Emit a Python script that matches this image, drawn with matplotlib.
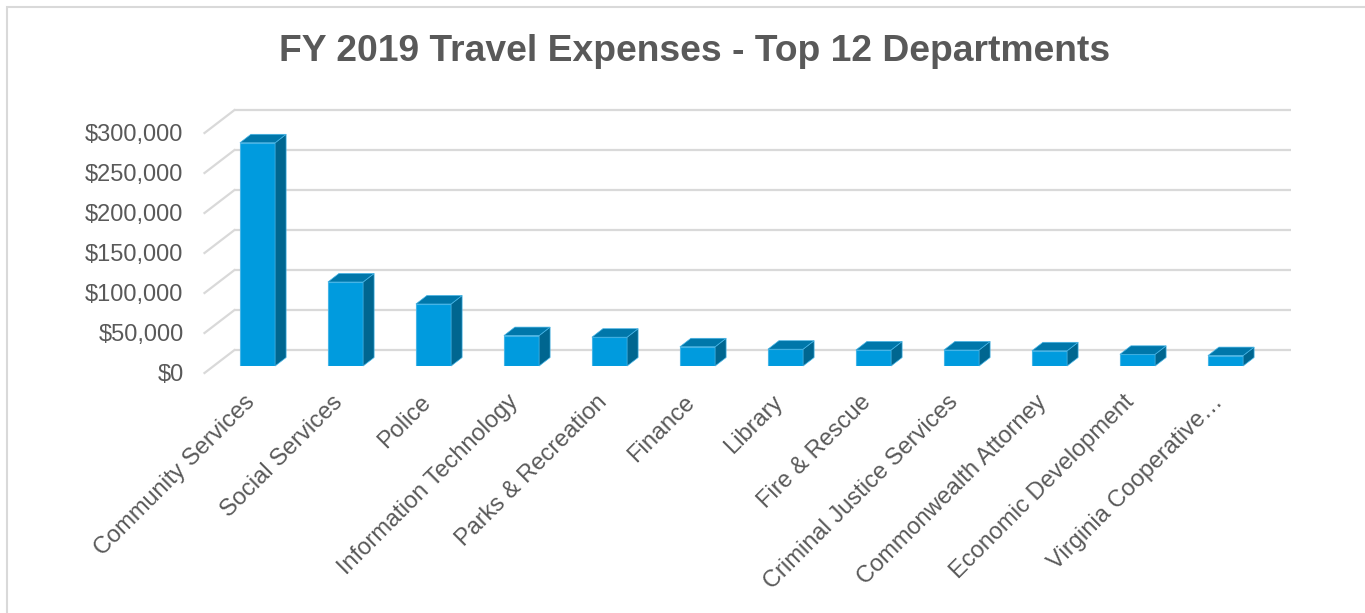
import matplotlib
matplotlib.use("Agg")
import matplotlib.pyplot as plt
from matplotlib.patches import Polygon, Rectangle
import matplotlib.transforms as mtransforms

# ---- data ----
departments = [
    "Community Services", "Social Services", "Police", "Information Technology",
    "Parks & Recreation", "Finance", "Library", "Fire & Rescue",
    "Criminal Justice Services", "Commonwealth Attorney", "Economic Development",
    "Virginia Cooperative\u2026",
]
expenses = [279000, 105000, 77500, 38000, 36000, 24000, 21000, 20000, 20000, 19000, 14600, 13000]
y_ticks = [0, 50000, 100000, 150000, 200000, 250000, 300000]
y_tick_labels = ["$0", "$50,000", "$100,000", "$150,000", "$200,000", "$250,000", "$300,000"]
title = "FY 2019 Travel Expenses - Top 12 Departments"

# ---- style ----
plt.rcParams["font.family"] = ["Liberation Sans", "DejaVu Sans"]
TEXT = "#595959"
GRID = "#D9D9D9"
FRONT = "#009BDE"
SIDE = "#006690"
TOP = "#0077AA"
EDGE = "#45B4E6"

W, H = 1365, 613
fig = plt.figure(figsize=(W / 100, H / 100), dpi=100)
fig.patch.set_facecolor("white")

# axes = plane of the bars' front faces
ax_l, ax_r, ax_zero, ax_top = 213.5, 1269.5, 366, 126
ax = fig.add_axes([ax_l / W, (H - ax_zero) / H, (ax_r - ax_l) / W, (ax_zero - ax_top) / H])
n = len(departments)
ax.set_xlim(-0.5, n - 0.5)
ax.set_ylim(0, 300000)
ax.axis("off")

PX_X = n / (ax_r - ax_l)          # category units per pixel
PX_Y = 300000 / (ax_zero - ax_top)  # dollars per pixel

# depth offsets in pixels (x right, y up) relative to bar front plane
BAR_D = (11, 8.5)
WALL_D = (21, 16)
FLOOR_D = (-9, -7)

# gridlines: back wall + left wall
xl, xr = -0.5, n - 0.5
for v in y_ticks:
    ax.plot([xl + WALL_D[0] * PX_X, xr + WALL_D[0] * PX_X],
            [v + WALL_D[1] * PX_Y] * 2, color=GRID, lw=1.6, clip_on=False, zorder=1,
            solid_capstyle="butt")
    ax.plot([xl + FLOOR_D[0] * PX_X, xl + WALL_D[0] * PX_X],
            [v + FLOOR_D[1] * PX_Y, v + WALL_D[1] * PX_Y], color=GRID, lw=1.6,
            clip_on=False, zorder=1)

# y tick labels at the front-left edge
for v, lab in zip(y_ticks, y_tick_labels):
    ax.text(xl + FLOOR_D[0] * PX_X - 21 * PX_X, v + (FLOOR_D[1] - 2) * PX_Y, lab,
            ha="right", va="center", fontsize=17, color=TEXT, clip_on=False)

# bars
bw = 0.4
dx, dy = BAR_D[0] * PX_X, BAR_D[1] * PX_Y
xs = list(range(n))
ax.bar(xs, expenses, width=bw, color=FRONT, edgecolor=EDGE, linewidth=0.8, zorder=3)
for x, v in zip(xs, expenses):
    r = x + bw / 2
    l = x - bw / 2
    ax.add_patch(Polygon([(r, 0), (r, v), (r + dx, v + dy), (r + dx, dy)], closed=True,
                         facecolor=SIDE, edgecolor=EDGE, linewidth=0.5, zorder=3, clip_on=False))
    ax.add_patch(Polygon([(l, v), (r, v), (r + dx, v + dy), (l + dx, v + dy)], closed=True,
                         facecolor=TOP, edgecolor=EDGE, linewidth=0.5, zorder=3, clip_on=False))

# category labels
lab_tr = mtransforms.offset_copy(ax.transData, fig=fig, x=-14, y=-25, units="dots")
for x, name in zip(xs, departments):
    ax.text(x, 0, name, transform=lab_tr, rotation=45, rotation_mode="anchor",
            ha="right", va="top", fontsize=17, color=TEXT, clip_on=False)

# title
fig.text(695 / W, 1 - 61 / H, title, ha="center", va="baseline", fontsize=26.8,
         fontweight="bold", color=TEXT)

# outer chart border (partially cropped)
fig.add_artist(Rectangle((7 / W, -1), 5, (H - 7) / H + 1, transform=fig.transFigure,
                         fill=False, edgecolor=GRID, linewidth=1.5))

fig.savefig("out.png", dpi=100, facecolor="white")
